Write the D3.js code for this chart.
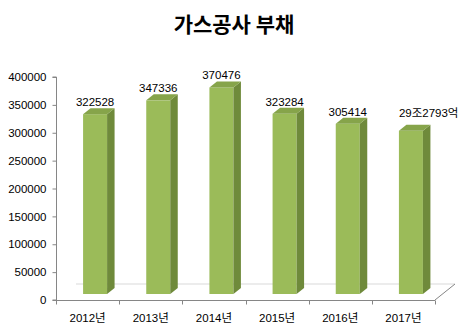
<!DOCTYPE html>
<html><head><meta charset="utf-8">
<script src="https://cdn.jsdelivr.net/npm/d3@7"></script>
<style>
html,body{margin:0;padding:0;background:#fff;}
svg{display:block;}
text{font-family:"Liberation Sans","Noto Sans CJK KR",sans-serif;fill:#000;}
</style></head>
<body><svg id="c" width="468" height="335"></svg>
<script>
const title = "가스공사 부채";
const categories = ["2012년","2013년","2014년","2015년","2016년","2017년"];
const values = [322528, 347336, 370476, 323284, 305414, 292793];
const valueLabels = ["322528","347336","370476","323284","305414","29조2793억"];
const yTicks = [0,50000,100000,150000,200000,250000,300000,350000,400000];

const svg = d3.select("#c");
const W = 468, H = 335;
const x0 = 56, x1 = 435, yBase = 300, yTop = 77;
const depthDX = 20, depthDY = 16;       // floor depth
const barDX0 = 7.5, barDY0 = 6;         // bar front offset
const barDX = 7.5, barDY = 6;           // bar depth

const x = d3.scaleBand().domain(categories).range([x0, x1]).paddingInner(0).paddingOuter(0);
const y = d3.scaleLinear().domain([0, 400000]).range([yBase, yTop]);

// title
svg.append("text").attr("x", 234).attr("y", 32).attr("text-anchor","middle")
  .style("font-family","'Noto Sans CJK KR',sans-serif").style("font-weight","bold").style("font-size","21px")
  .text(title);

// floor
const floor = svg.append("g");
floor.append("line").attr("x1", x0+depthDX).attr("x2", x1+depthDX).attr("y1", yBase-depthDY).attr("y2", yBase-depthDY)
  .attr("stroke","#d9d9d9").attr("stroke-width",1);
floor.append("line").attr("x1", x1).attr("x2", x1+depthDX).attr("y1", yBase).attr("y2", yBase-depthDY)
  .attr("stroke","#868686").attr("stroke-width",1);

// y axis
const yAxis = d3.axisLeft(y).tickValues(yTicks).tickSize(4).tickPadding(6).tickFormat(d3.format("d"));
const gy = svg.append("g").attr("transform",`translate(${x0+0.5},0)`).call(yAxis);
gy.select(".domain").attr("stroke","#868686").attr("d", `M-4,${yBase}H0V${yTop}H-4`);
gy.selectAll(".tick line").attr("stroke","#868686");
gy.selectAll(".tick text").style("font-size","11.5px").attr("fill","#000");

// x axis
const xAxis = d3.axisBottom(x).tickSize(0).tickPadding(13);
const gx = svg.append("g").attr("transform",`translate(0,${yBase+0.5})`).call(xAxis);
gx.select(".domain").attr("stroke","#868686").attr("d", `M${x0},0H${x1}`);
gx.selectAll(".tick text").style("font-size","11.5px").attr("fill","#000");
// category divider ticks
const bounds = categories.map(c => x(c)).concat([x1]);
gx.selectAll(".div").data(bounds).enter().append("line")
  .attr("x1", d => Math.round(d)+0.5).attr("x2", d => Math.round(d)+0.5).attr("y1",0).attr("y2",4)
  .attr("stroke","#868686");

// bars
const bw = 24;
const bars = svg.append("g");
categories.forEach((c, i) => {
  const cx = x(c) + x.bandwidth()/2 + barDX0;
  const left = cx - bw/2, right = cx + bw/2;
  const top = y(values[i]) - barDY0, bottom = yBase - barDY0;
  // front
  bars.append("rect").attr("x", left).attr("y", top).attr("width", bw).attr("height", bottom-top).attr("fill","#9bbb59");
  // side
  bars.append("path").attr("d", `M${right},${top}L${right+barDX},${top-barDY}L${right+barDX},${bottom-barDY}L${right},${bottom}Z`).attr("fill","#6f8a3b");
  // top
  bars.append("path").attr("d", `M${left},${top}L${left+barDX},${top-barDY}L${right+barDX},${top-barDY}L${right},${top}Z`).attr("fill","#86a44a");
  // label
  const last = i === categories.length - 1;
  bars.append("text")
    .attr("x", last ? left : cx)
    .attr("y", last ? top - barDY - 8 : top - barDY - 2)
    .attr("text-anchor", last ? "start" : "middle")
    .style("font-size","11.5px")
    .text(valueLabels[i]);
});
</script></body></html>
